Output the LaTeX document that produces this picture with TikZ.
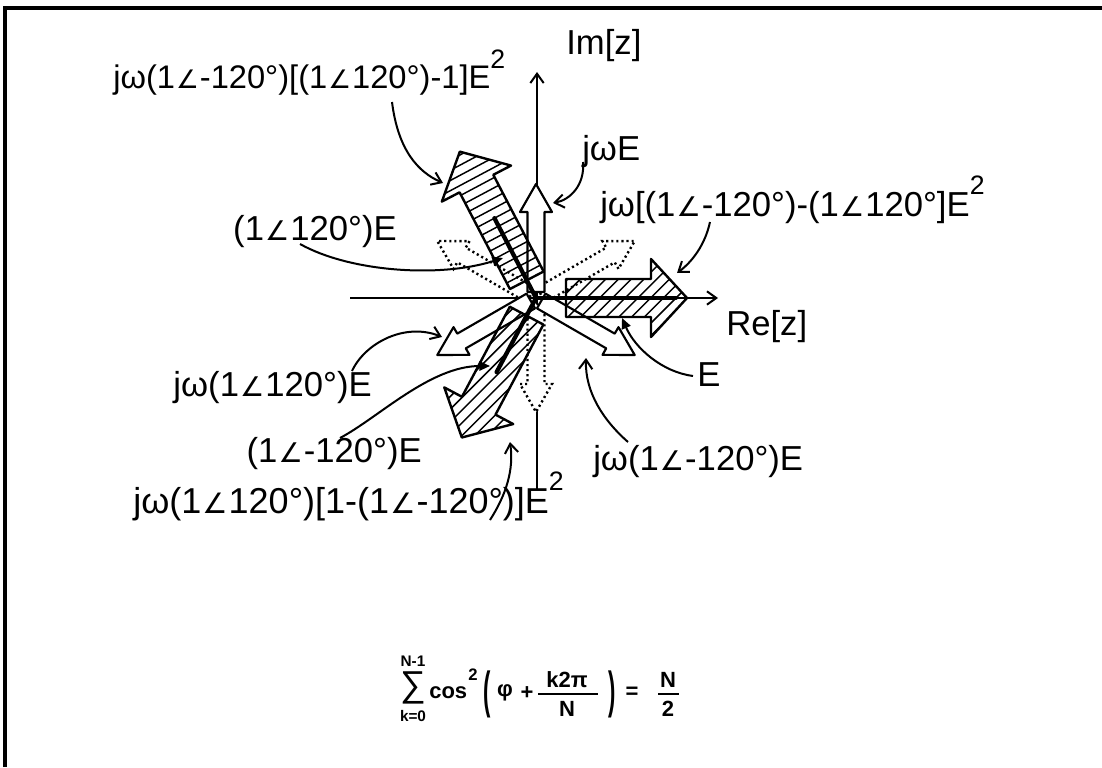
\documentclass[tikz,border=0pt]{standalone}
\usepackage{fontspec}
\usepackage{graphicx}
\setmainfont{Liberation Sans}
\newfontfamily\dejavu{DejaVu Sans}
\usetikzlibrary{arrows.meta}
\newcommand{\ang}{{\kern0.03em\dejavu\scalebox{0.78}{∠}\kern0.03em}}
\newcommand{\sqd}{\raisebox{0.62em}{\fontsize{20}{20}\selectfont 2}}
\tikzset{
  lbl/.style={inner sep=0pt, font=\fontsize{26}{30}\selectfont},
  lblsmall/.style={inner sep=0pt, font=\fontsize{24.5}{28}\selectfont},
  lblwide/.style={inner sep=0pt, font=\fontsize{27}{30}\selectfont},
  fml/.style={inner sep=0pt, font=\fontsize{16.5}{18}\selectfont\bfseries},
  fmllim/.style={inner sep=0pt, font=\fontsize{11.5}{13}\selectfont\bfseries},
  ptr/.style={line width=1.5pt, -{Straight Barb[length=7pt,width=10pt]}},
  ptrf/.style={line width=1.5pt, -{Triangle[length=8pt,width=7pt]}},
  axisline/.style={line width=1.5pt, -{Straight Barb[length=7pt,width=10pt]}},
  vecline/.style={line width=3.2pt, line cap=round},
  frameline/.style={line width=2.4pt},
  fracbar/.style={line width=1.3pt},
  whitearrow/.style={draw, line width=1.6pt, fill=white, line join=round},
  dotarrow/.style={draw, line width=1.8pt, fill=white, dash pattern=on 1.6pt off 2.2pt},
  hatchline/.style={line width=1.1pt},
  hatchedge/.style={draw, line width=1.8pt, line join=round},
}
% #1 angle, #2 start, #3 length, #4 shaft half width, #5 head half width, #6 head length
\newcommand{\arrowpoly}[6]{(#2,-#4) -- (#3-#6,-#4) -- (#3-#6,-#5) -- (#3,0) -- (#3-#6,#5) -- (#3-#6,#4) -- (#2,#4) -- cycle}
\newcommand{\smallarrow}[2]{% #1 angle, #2 style
  \path[#2, shift={(O)}, rotate=#1] \arrowpoly{#1}{6}{114}{8.5}{16}{28};}
% #1 angle, #2 start, #3 length, #4 hatch angle
\newcommand{\hatcharrow}[4]{%
  \begin{scope}[shift={(O)}, rotate=#1]
    \begin{scope}
      \clip \arrowpoly{#1}{#2}{#3}{19}{39}{36};
      \begin{scope}[rotate=#4-#1]
        \foreach \i in {-243,-234,...,243} \draw[hatchline] (-250,\i) -- (250,\i);
      \end{scope}
    \end{scope}
    \path[hatchedge] \arrowpoly{#1}{#2}{#3}{19}{39}{36};
  \end{scope}}
\begin{document}
\begin{tikzpicture}[x=0.75pt,y=-0.75pt]
\useasboundingbox (0,0) rectangle (1102,767);
% frame
\coordinate (FTL) at (5,8);
\coordinate (FTR) at (1102,8);
\coordinate (FBL) at (5,767);
\draw[frameline] (FBL) -- (FTL) -- (FTR);
% origin and axes
\coordinate (O) at (536,298);
\coordinate (XL) at (350,298);
\coordinate (XR) at (718,298);
\coordinate (YB) at (537,490);
\coordinate (YT) at (537,72);
\draw[axisline] (XL) -- (XR);
\draw[axisline] (YB) -- (YT);
% dotted arrows
\smallarrow{30}{dotarrow}
\smallarrow{150}{dotarrow}
\smallarrow{270}{dotarrow}
% white arrows
\smallarrow{90}{whitearrow}
\smallarrow{210}{whitearrow}
\smallarrow{330}{whitearrow}
% hatched arrows
\hatcharrow{0}{30}{151}{45}
\hatcharrow{117.5}{20}{165}{28}
\hatcharrow{242}{20}{158}{45}
% black vectors
\draw[vecline, line width=2.8pt, shift={(O)}, rotate=0] (0,0) -- (140,0);
\draw[vecline, shift={(O)}, rotate=117.5] (0,0) -- (90,0);
\draw[vecline, shift={(O)}, rotate=242] (0,0) -- (84,0);
% labels
\node[lblsmall, anchor=base west] (L1) at (113,89) {jω(1\ang-120°)[(1\ang120°)-1]E\sqd};
\node[lbl, anchor=base west] (Im) at (566,55) {Im[z]};
\node[lbl, anchor=base west] (LjE) at (582,160) {jωE};
\node[lbl, anchor=base west] (L3) at (600,216) {jω[(1\ang-120°)-(1\ang120°]E\sqd};
\node[lbl, anchor=base east] (L4) at (397,240) {(1\ang120°)E};
\node[lbl, anchor=base west] (Re) at (726,335) {Re[z]};
\node[lbl, anchor=base east] (L5) at (372,396) {jω(1\ang120°)E};
\node[lbl, anchor=base west] (LE) at (697,386) {E};
\node[lbl, anchor=base east] (L6) at (422,462) {(1\ang-120°)E};
\node[lbl, anchor=base west] (L7) at (593,470) {jω(1\ang-120°)E};
\node[lblwide, anchor=base west] (L8) at (133,513) {jω(1\ang120°)[1-(1\ang-120°)]E\sqd};
% formula
\node[inner sep=0pt, font=\fontsize{27}{30}\selectfont] (FS) at (413,688) {∑};
\node[fmllim] (FSU) at (413,661) {N-1};
\node[fmllim] (FSL) at (413,716) {k=0};
\node[fml, anchor=west] (Fcos) at (429,693) {cos};
\node[inner sep=0pt, font=\fontsize{12.5}{13}\selectfont\bfseries] (Fsq) at (473,675) {2};
\node[fml] (Flp) at (487,694) {\scalebox{1}[2.3]{(}};
\node[fml] (Fphi) at (505,693) {φ};
\node[fml] (Fplus) at (527,693) {+};
\node[fml] (Fnum) at (567,680) {k2π};
\node[fml] (Fden) at (567,709) {N};
\node[fml] (Frp) at (612,694) {\scalebox{1}[2.3]{)}};
\node[fml] (Feq) at (632,693) {=};
\node[fml] (Fn2) at (668,680) {N};
\node[fml] (Fd2) at (668,709) {2};
\coordinate (FB1a) at (538,694); \coordinate (FB1b) at (598,694);
\coordinate (FB2a) at (658,694); \coordinate (FB2b) at (679,694);
\draw[fracbar] (FB1a) -- (FB1b);
\draw[fracbar] (FB2a) -- (FB2b);
% pointer coordinates
\coordinate (p1s) at (392,102);  \coordinate (p1e) at (443,183);
\coordinate (p2s) at (583,162);  \coordinate (p2e) at (553,203);
\coordinate (p3s) at (300,244);  \coordinate (p3e) at (503,258);
\coordinate (p4s) at (710,222);  \coordinate (p4e) at (677,273);
\coordinate (p5s) at (352,371);  \coordinate (p5e) at (442,337);
\coordinate (p6s) at (693,376);  \coordinate (p6e) at (622,318);
\coordinate (p7s) at (340,438);  \coordinate (p7e) at (490,366);
\coordinate (p8s) at (628,442);  \coordinate (p8e) at (586,358);
\coordinate (p9s) at (490,520);  \coordinate (p9e) at (510,442);
\draw[ptr]  (p1s) .. controls (398,150) and (418,172) .. (p1e);
\draw[ptr]  (p2s) .. controls (585,185) and (570,200) .. (p2e);
\draw[ptrf] (p3s) .. controls (350,272) and (440,278) .. (p3e);
\draw[ptr]  (p4s) .. controls (705,245) and (692,262) .. (p4e);
\draw[ptr]  (p5s) .. controls (365,343) and (405,322) .. (p5e);
\draw[ptrf] (p6s) .. controls (662,372) and (635,348) .. (p6e);
\draw[ptrf] (p7s) .. controls (378,418) and (430,366) .. (p7e);
\draw[ptr]  (p8s) .. controls (603,420) and (585,392) .. (p8e);
\draw[ptr]  (p9s) .. controls (506,495) and (514,470) .. (p9e);
\end{tikzpicture}
\end{document}
